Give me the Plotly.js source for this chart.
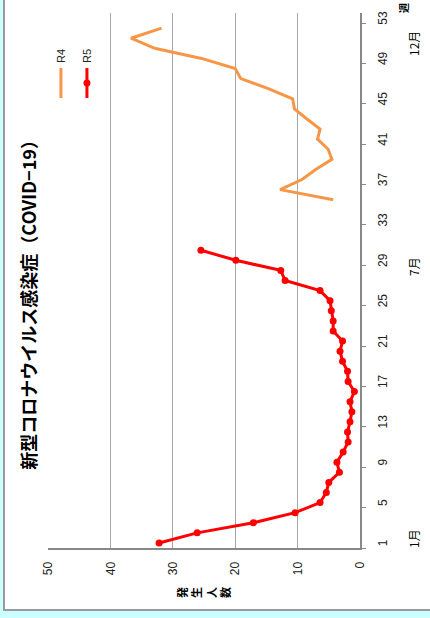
<!DOCTYPE html>
<html><head><meta charset="utf-8">
<script src="https://cdn.plot.ly/plotly-3.0.1.min.js"></script>
<style>
html,body{margin:0;padding:0;width:430px;height:618px;overflow:hidden;background:#ccffff;}
#frame{position:absolute;left:3px;top:-10px;width:500px;height:621px;box-sizing:border-box;background:#fff;border:2px solid #9a9a9a;}
#chart{position:absolute;left:0;top:0;width:618px;height:430px;transform-origin:0 0;transform:rotate(-90deg) translateX(-618px);}
</style></head><body><div id="frame"></div><div id="chart"></div>
<script>
// Data (week number -> 発生人数)
const r5Weeks  = [1,2,3,4,5,6,7,8,9,10,11,12,13,14,15,16,17,18,19,20,21,22,23,24,25,26,27,28,29,30];
const r5Values = [32.2,26.1,17.1,10.4,6.4,5.4,5.0,3.3,3.7,2.7,1.9,2.0,1.6,1.3,1.6,0.9,1.9,2.0,2.8,3.2,2.8,4.3,4.3,4.6,4.8,6.4,12.0,12.7,19.9,25.5];
const r4Weeks  = [35,36,37,38,39,40,41,42,43,44,45,46,47,48,49,50,51,52];
const r4Values = [4.3,12.8,9.3,7.1,4.5,5.1,6.8,6.4,8.5,10.5,10.8,14.7,19.1,20.0,25.4,32.9,36.7,31.8];
const weekTicks = [1,5,9,13,17,21,25,29,33,37,41,45,49,53];
const weekTickText = ['1','5','9','13','17','21','25','29','33','37','41','45','49','53'];
const countTicks = [0,10,20,30,40,50];
const monthLabels = ['1月','7月','12月'];
const monthWeeks = [1.4,28.35,50.5];

const FONT = 'Liberation Sans, Arial, Noto Sans CJK JP, sans-serif';
const JP = 'Noto Sans CJK JP, sans-serif';

const traces = [
  {x:r4Weeks, y:r4Values, name:'R4', legendgroup:'a', type:'scatter', mode:'lines',
   line:{color:'#F79646', width:3}},
  {x:r5Weeks, y:r5Values, name:'R5', legendgroup:'b', type:'scatter', mode:'lines+markers',
   line:{color:'#FF0000', width:3}, marker:{color:'#FF0000', size:7}}
];

const annotations = monthLabels.map((t,i)=>({
  text:t, x:monthWeeks[i], xref:'x', y:-0.173, yref:'paper', showarrow:false,
  xanchor:'center', yanchor:'middle', font:{family:JP, size:12, color:'#000'}
}));
annotations.push({text:'<b>発<br>生<br>人<br>数</b>', x:-0.083, xref:'paper', y:0.502, yref:'paper',
  showarrow:false, xanchor:'center', yanchor:'middle', font:{family:JP, size:11, color:'#000'}});
annotations.push({text:'<b>週</b>', x:1.009, xref:'paper', y:-0.141, yref:'paper',
  showarrow:false, xanchor:'center', yanchor:'middle', font:{family:JP, size:10, color:'#000'}});

const layout = {
  width:618, height:430,
  margin:{l:70, r:13, t:48, b:70},
  paper_bgcolor:'rgba(0,0,0,0)', plot_bgcolor:'rgba(0,0,0,0)',
  font:{family:FONT, size:12, color:'#222'},
  title:{text:'<b>新型コロナウイルス感染症（COVID−19）</b>', font:{family:JP, size:18, color:'#000'},
         x:0.514, xanchor:'center', y:0.931, yanchor:'middle'},
  showlegend:true,
  legend:{x:0.832, xanchor:'left', y:1.005, yanchor:'top', bgcolor:'rgba(0,0,0,0)',
          tracegroupgap:7, font:{family:FONT, size:11, color:'#222'}},
  xaxis:{range:[0.5,53.5], tickmode:'array', tickvals:weekTicks, ticktext:weekTickText,
         ticks:'', showgrid:false, zeroline:false, showline:true, linecolor:'#888', linewidth:1.5,
         tickfont:{family:FONT, size:12, color:'#222'}, ticklabelstandoff:11,
         minor:{tickmode:'array', tickvals:weekTicks.map(w=>w-0.5), ticks:'outside', ticklen:4,
                tickcolor:'#888', tickwidth:1, showgrid:false}},
  yaxis:{range:[0,50], tickmode:'array', tickvals:countTicks, ticks:'', showgrid:true,
         gridcolor:'#a6a6a6', gridwidth:1, zeroline:false, showline:true, linecolor:'#888', linewidth:1.5,
         tickfont:{family:FONT, size:12, color:'#222'}, ticklabelstandoff:10},
  annotations:annotations
};

Plotly.newPlot('chart', traces, layout, {displayModeBar:false, staticPlot:true});
</script></body></html>
